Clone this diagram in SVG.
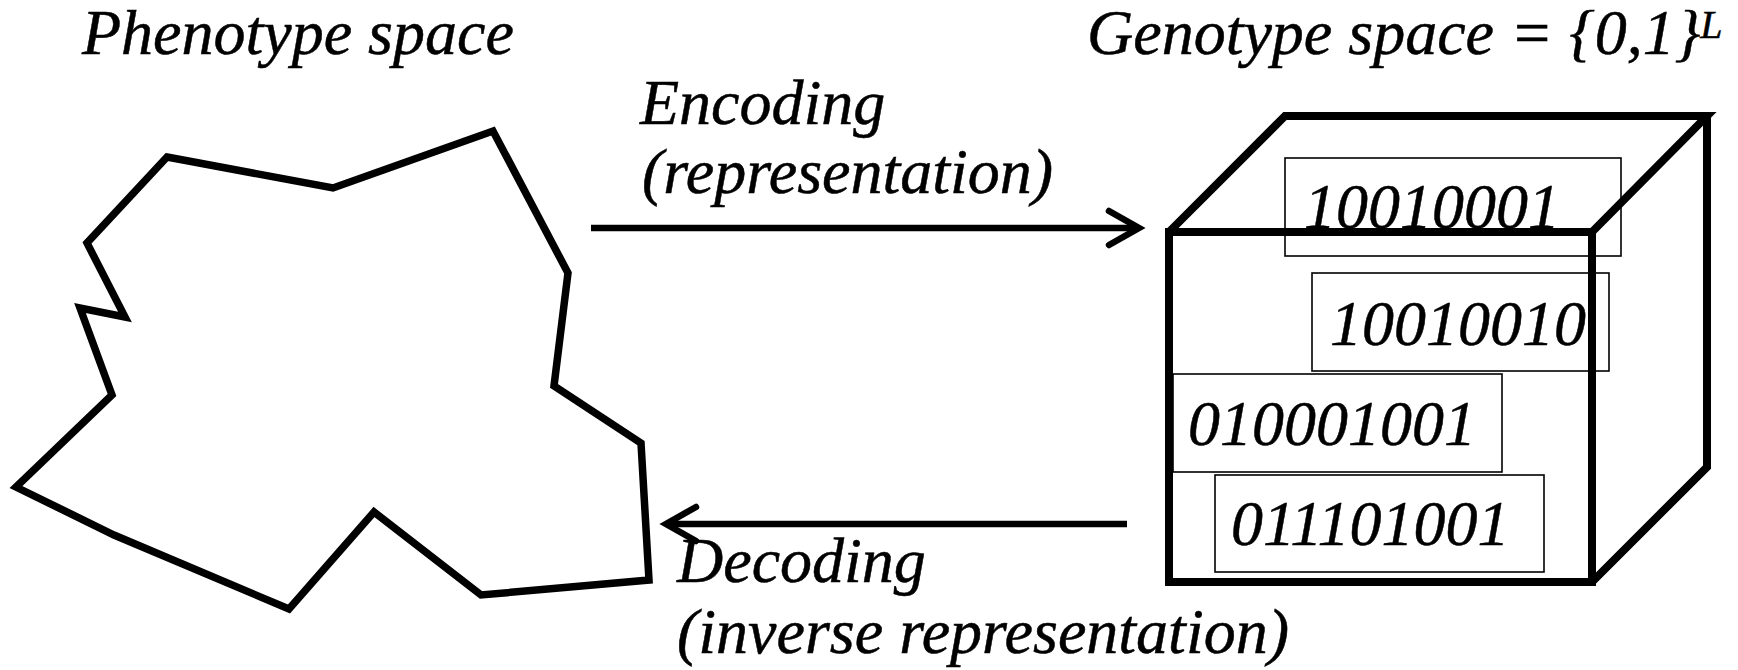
<svg xmlns="http://www.w3.org/2000/svg" width="1738" height="670" viewBox="0 0 1738 670">
  <style>
    .lbl { font-family: 'Liberation Serif', 'Times New Roman', serif; font-style: italic; font-size: 64px; fill: #000; stroke: #000; stroke-width: 0.5; }
    .sup { font-size: 40px; }
    .thick { fill: none; stroke: #000; stroke-width: 7.5; stroke-linejoin: miter; stroke-miterlimit: 10; }
    .cube { fill: none; stroke: #000; stroke-width: 8; stroke-linejoin: miter; }
    .chrom { fill: #fff; stroke: #000; stroke-width: 1.6; }
    .link { fill: none; stroke: #000; stroke-width: 6.5; }
  </style>
  <defs>
    <marker id="chevron" markerUnits="userSpaceOnUse" viewBox="-36 -22 40 44" refX="0" refY="0" markerWidth="40" markerHeight="44" orient="auto" overflow="visible">
      <path d="M -30 -17 L 0 0 L -30 17" fill="none" stroke="#000" stroke-width="6.5" stroke-linecap="round" stroke-linejoin="miter"/>
    </marker>
  </defs>
  <rect width="1738" height="670" fill="#fff"/>

  <!-- phenotype space: irregular region -->
  <g id="phenotype">
    <text class="lbl" x="82" y="54">Phenotype space</text>
    <polygon class="thick" points="167,157 333,188 493,131 568,273 554,386 641,443 649,580 481,595 374,512 289,609 114,535 16,487 112,395 80,308 125,317 87,243"/>
  </g>

  <!-- genotype space: cube holding bit strings -->
  <g id="genotype">
    <text class="lbl" x="1087" y="54">Genotype space = {0,1}<tspan class="sup" dy="-16">L</tspan></text>
    <rect class="chrom" x="1285" y="158" width="336" height="98"/>
    <rect class="chrom" x="1312" y="273" width="297" height="98"/>
    <rect class="chrom" x="1173" y="374" width="329" height="98"/>
    <rect class="chrom" x="1215" y="475" width="329" height="97"/>
    <g class="cube">
      <rect x="1169" y="232" width="423" height="350"/>
      <polyline points="1169,232 1285,116 1707,116 1592,232"/>
      <polyline points="1707,116 1707,467 1592,582"/>
    </g>
    <text class="lbl" x="1304" y="228">10010001</text>
    <text class="lbl" x="1330" y="345">10010010</text>
    <text class="lbl" x="1188" y="445">010001001</text>
    <text class="lbl" x="1231" y="545">011101001</text>
  </g>

  <!-- mappings between the two spaces -->
  <g id="connectors">
    <line class="link" x1="591" y1="228" x2="1139" y2="228" marker-end="url(#chevron)"/>
    <line class="link" x1="1127" y1="524" x2="666" y2="524" marker-end="url(#chevron)"/>
  </g>
  <g id="encoding-label">
    <text class="lbl" x="640" y="124">Encoding</text>
    <text class="lbl" x="642" y="193">(representation)</text>
  </g>
  <g id="decoding-label">
    <text class="lbl" x="677" y="582">Decoding</text>
    <text class="lbl" x="677" y="653">(inverse representation)</text>
  </g>
</svg>
